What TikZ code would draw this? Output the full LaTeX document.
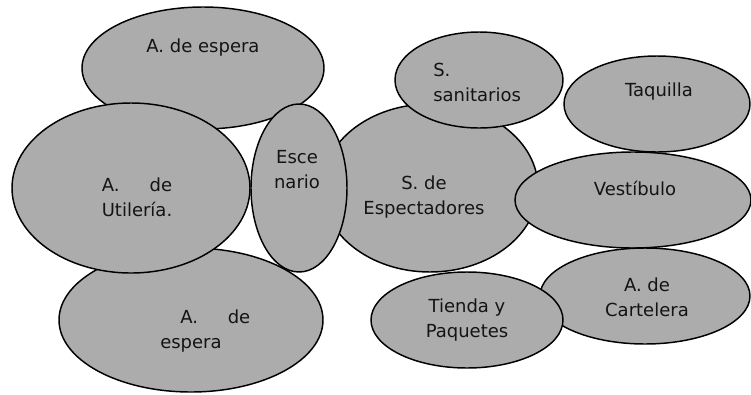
\documentclass[tikz,border=0pt]{standalone}
\usepackage{fontspec}
\setmainfont{DejaVu Sans}
\usepackage{calc}
\usetikzlibrary{shapes.geometric}
\definecolor{areagray}{RGB}{172,172,172}
\definecolor{txtgray}{RGB}{20,20,20}
\tikzset{
  area/.style={ellipse, draw=black, fill=areagray, line width=1.1pt, inner sep=0pt},
  lbl/.style={font=\fontsize{13.5pt}{18.75pt}\selectfont, text=txtgray, inner sep=0pt, align=center}
}
\begin{document}
\begin{tikzpicture}[x=0.75pt, y=-0.75pt]
\useasboundingbox (0,0) rectangle (751,394);
% ellipses (pixel coords, y down); sizes: 2rx x 2ry in px -> pt
\node[area, minimum width=181.5pt, minimum height=91.5pt] (esperaT) at (203,68) {};
\node[area, minimum width=198pt, minimum height=108pt] (esperaB) at (191,320) {};
\node[area, minimum width=178.5pt, minimum height=127.5pt] (util) at (131,188) {};
\node[area, minimum width=162pt, minimum height=126pt] (espect) at (430,188) {};
\node[area, minimum width=72pt, minimum height=126pt] (escen) at (299,188) {};
\node[area, minimum width=126pt, minimum height=72pt] (sanit) at (479,80) {};
\node[area, minimum width=139.5pt, minimum height=72pt] (taq) at (657,104) {};
\node[area, minimum width=177pt, minimum height=72pt] (vest) at (633,200) {};
\node[area, minimum width=157.5pt, minimum height=72pt] (cart) at (645,296) {};
\node[area, minimum width=144pt, minimum height=72pt] (tienda) at (467,320) {};
% labels
\node[lbl] (tEsperaT) at (203,48) {A. de espera};
\node[lbl] (tUtil) at (137,197) {\makebox[\widthof{Utilería.}][s]{A. de}\\Utilería.};
\node[lbl] (tEscen) at (297,170) {Esce\\nario};
\node[lbl] (tEspect) at (424,197) {S. de\\Espectadores};
\node[lbl, align=left, anchor=west] (tSanit) at (433,82) {S.\\sanitarios};
\node[lbl] (tTaq) at (659,92) {Taquilla};
\node[lbl] (tVest) at (635,188) {Vestíbulo};
\node[lbl] (tCart) at (647,297) {A. de\\Cartelera};
\node[lbl] (tTienda) at (467,320) {Tienda y\\Paquetes};
\node[lbl, align=left, anchor=west] (tEsperaB) at (160,331) {\hspace*{15pt}\makebox[52.5pt][s]{A. de}\\espera};
\end{tikzpicture}
\end{document}
